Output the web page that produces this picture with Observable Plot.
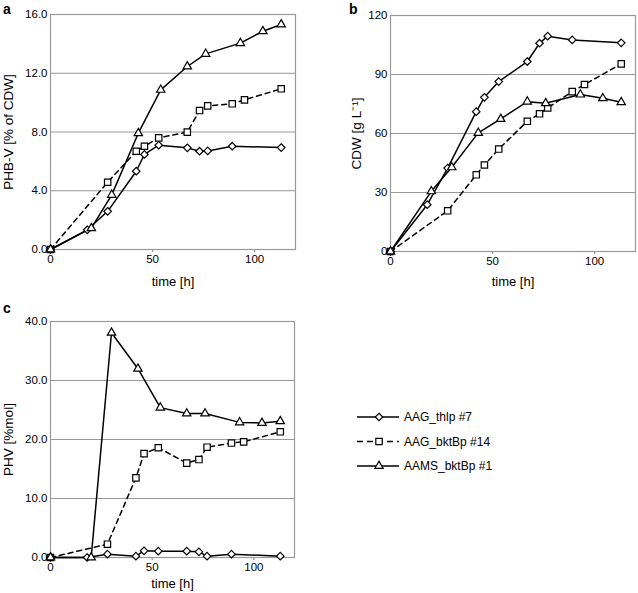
<!DOCTYPE html>
<html><head><meta charset="utf-8">
<script src="https://cdn.jsdelivr.net/npm/d3@7"></script>
<script src="https://cdn.jsdelivr.net/npm/@observablehq/plot@0.6"></script>
<style>
body{margin:0;background:#fff;font-family:"Liberation Sans",Arial,sans-serif;}
#wrap{position:relative;width:638px;height:593px;overflow:hidden;}
.panel{position:absolute;}
.lbl{position:absolute;font-weight:bold;font-size:14px;line-height:1;}
</style></head><body><div id="wrap"></div>
<script>
// strains / series
const strains = ["AAG_thlp #7", "AAG_bktBp #14", "AAMS_bktBp #1"];
// sampling times [h]
const timeThlp  = [0, 18, 28, 42, 46, 53, 67, 73, 77, 89, 113];
const timeBkt14 = [0, 28, 42, 46, 53, 67, 73, 77, 89, 95, 113];
const timeAAMS  = [0, 20, 30, 43, 54, 67, 76, 93, 104, 113];
// panel a: PHB-V [% of CDW]
const phbvThlp  = [0, 1.34, 2.6, 5.33, 6.47, 7.1, 6.92, 6.69, 6.71, 7.03, 6.94];
const phbvBkt14 = [0, 4.58, 6.69, 7.03, 7.6, 7.99, 9.46, 9.78, 9.92, 10.19, 10.94];
const phbvAAMS  = [0, 1.45, 3.72, 7.92, 10.87, 12.46, 13.32, 14.05, 14.86, 15.32];
// panel b: CDW [g L-1]
const cdwThlp  = [0, 23.8, 42.4, 71.1, 78.4, 86.4, 96.6, 105.9, 109.5, 107.6, 106.1];
const cdwBkt14 = [0, 20.7, 39.0, 44.0, 52.1, 66.2, 70.0, 73.0, 81.3, 84.9, 95.4];
const cdwAAMS  = [0, 30.6, 42.8, 60.3, 67.4, 76.2, 75.4, 79.8, 77.9, 75.9];
// panel c: PHV [%mol]
const phvThlp  = [0, 0, 0.56, 0.23, 1.13, 1.07, 1.07, 0.96, 0.23, 0.56, 0.23];
const phvBkt14 = [0, 2.26, 13.5, 17.6, 18.6, 16.0, 16.6, 18.7, 19.4, 19.6, 21.3];
const phvAAMS  = [0, 0, 38.1, 32.0, 25.4, 24.4, 24.4, 22.9, 22.8, 23.1];
// ticks
const xTicks = [0, 50, 100];
const yTicksA = [0, 4, 8, 12, 16];
const yTicksB = [0, 30, 60, 90, 120];
const yTicksC = [0, 10, 20, 30, 40];
const xLabel = "time [h]";

const times = [timeThlp, timeBkt14, timeAAMS];
const styles = [
  {symbol: "diamond2", r: 3.4, dash: null},
  {symbol: "square", r: 3.6, dash: "5,4"},
  {symbol: "triangle2", r: 4.0, dash: null}
];
const GRID = "#999";
const FONT = "Liberation Sans, Arial, Helvetica, sans-serif";

function panel(cfg) {
  const {vals, yDomain, yTicks, yFmt, yLabel, yLabelOffset, xLabelDy, left, top, width, height, mL, mR, mT, mB} = cfg;
  const marks = [
    Plot.gridY(yTicks, {stroke: GRID, strokeOpacity: 1, strokeWidth: 1.2}),
    Plot.frame({stroke: GRID, strokeWidth: 1.2}),
    Plot.axisX(xTicks, {tickSize: 3, tickPadding: 2, label: null}),
    Plot.axisY(yTicks, {tickSize: 0, tickPadding: 3, tickFormat: yFmt, label: yLabel, labelAnchor: "center", labelArrow: "none", labelOffset: yLabelOffset}),
    Plot.text([xLabel], {frameAnchor: "bottom", lineAnchor: "bottom", dy: xLabelDy, fontSize: 13, fontWeight: 400, fill: "black"})
  ];
  strains.forEach((s, i) => {
    const rows = times[i].map((t, j) => ({t, v: vals[i][j], strain: s}));
    marks.push(Plot.line(rows, {x: "t", y: "v", stroke: "black", strokeWidth: 1.5, strokeDasharray: styles[i].dash || undefined}));
  });
  strains.forEach((s, i) => {
    const rows = times[i].map((t, j) => ({t, v: vals[i][j], strain: s}));
    marks.push(Plot.dot(rows, {x: "t", y: "v", symbol: () => styles[i].symbol, r: styles[i].r, fill: "white", stroke: "black", strokeWidth: 1.2}));
  });
  const svg = Plot.plot({
    width, height, marginLeft: mL, marginRight: mR, marginTop: mT, marginBottom: mB,
    style: {fontFamily: FONT, fontSize: "11.5px", background: "transparent", color: "#000", overflow: "visible"},
    x: {domain: [0, 120], label: null},
    y: {domain: yDomain, label: null},
    symbol: {type: "identity"},
    marks
  });
  const s = d3.select(svg);
  s.selectAll('[aria-label="x-axis tick"]').attr("stroke", GRID).attr("stroke-width", 1.2);
  s.selectAll('[aria-label="y-axis label"]').attr("font-size", "13.5px");
  const div = document.createElement("div");
  div.className = "panel";
  div.style.left = left + "px";
  div.style.top = top + "px";
  div.appendChild(svg);
  document.getElementById("wrap").appendChild(div);
}

panel({vals: [phbvThlp, phbvBkt14, phbvAAMS], yDomain: [0, 16], yTicks: yTicksA, yFmt: d3.format(".1f"),
  yLabel: "PHB-V [% of CDW]", yLabelOffset: 47, xLabelDy: 36, left: 0, top: 0, width: 300, height: 290, mL: 50, mR: 5, mT: 14, mB: 41});
panel({vals: [cdwThlp, cdwBkt14, cdwAAMS], yDomain: [0, 120], yTicks: yTicksB, yFmt: d3.format("d"),
  yLabel: "CDW [g L\u207B\u00B9]", yLabelOffset: 39.5, xLabelDy: 34, left: 340, top: 0, width: 298, height: 290, mL: 50, mR: 3, mT: 15, mB: 39});
panel({vals: [phvThlp, phvBkt14, phvAAMS], yDomain: [0, 40], yTicks: yTicksC, yFmt: d3.format(".1f"),
  yLabel: "PHV [%mol]", yLabelOffset: 47, xLabelDy: 30, left: 0, top: 300, width: 300, height: 293, mL: 50, mR: 6, mT: 21, mB: 36});

// panel letters
[["a", 3, 2], ["b", 349, 2], ["c", 3, 301]].forEach(([t, x, y]) => {
  const d = document.createElement("div");
  d.className = "lbl"; d.textContent = t; d.style.left = x + "px"; d.style.top = y + "px";
  document.getElementById("wrap").appendChild(d);
});

// legend
const leg = d3.select("#wrap").append("svg").attr("class", "panel")
  .style("left", "340px").style("top", "400px").attr("width", 200).attr("height", 80)
  .style("font-family", FONT);
const symGen = {diamond2: d3.symbolDiamond2, square: d3.symbolSquare, triangle2: d3.symbolTriangle2};
strains.forEach((s, i) => {
  const y = 17 + i * 24.5;
  leg.append("line").attr("x1", 17).attr("x2", 59).attr("y1", y).attr("y2", y)
    .attr("stroke", "black").attr("stroke-width", 1.5).attr("stroke-dasharray", styles[i].dash ? "6,4" : null);
  leg.append("path").attr("transform", `translate(39,${y})`)
    .attr("d", d3.symbol(symGen[styles[i].symbol], Math.PI * styles[i].r * styles[i].r)())
    .attr("fill", "white").attr("stroke", "black").attr("stroke-width", 1.2);
  leg.append("text").attr("x", 64).attr("y", y).attr("dy", "0.35em").attr("font-size", "12px").text(s);
});
</script></body></html>
